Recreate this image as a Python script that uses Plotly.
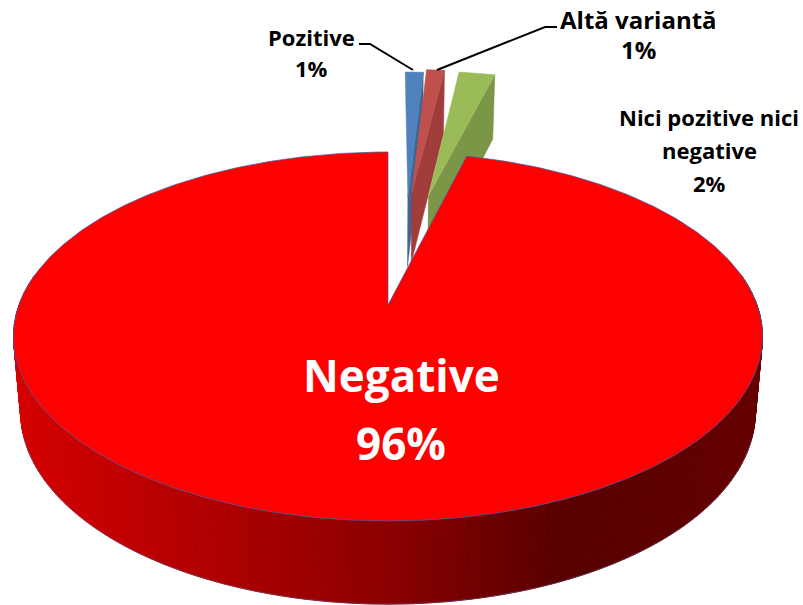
import numpy as np
import plotly.graph_objects as go

# ---- data ----
labels = ["Pozitive", "Altă variantă", "Nici pozitive nici negative", "Negative"]
values = [1, 1, 2, 96]

# ---- styles ----
top_colors = ["#4F81BD", "#C0504D", "#9BBB59", "#FF0000"]
wall_colors = ["#3E6797", "#A03D3B", "#7C9647", None]
explode_dist = [0.675, 0.70, 0.69, 0.0]
explode_dir = [5.1, 5.9, 10.2, 0.0]

# projection of the tilted disc into the page
CX, CY = 388.0, 305.0
K = 0.1707
A_TOP, B_TOP = 369.0, 179.1
A_BOT, B_BOT, Y_BOT = 362.0, 186.7, 379.0


def top(x, y):
    x, y = np.asarray(x, float), np.asarray(y, float)
    d = 1 + K * y
    return CX + A_TOP * x / d, CY - B_TOP * y / d


def bot(x, y):
    x, y = np.asarray(x, float), np.asarray(y, float)
    d = 1 + K * y
    return CX + A_BOT * x / d, Y_BOT - B_BOT * y / d


fig = go.Figure()


def poly(px, py, fill, line=None, width=1):
    fig.add_trace(go.Scatter(
        x=list(px), y=list(py), mode="lines", fill="toself", fillcolor=fill,
        line=dict(color=line or fill, width=width), hoverinfo="skip", showlegend=False))


grad_x = [13, 200, 388, 560, 600, 762]
grad_r = [214, 178, 140, 88, 90, 102]

total = sum(values)
spans = np.array(values) / total * 360.0
starts = np.concatenate([[0], np.cumsum(spans)[:-1]])

# main slice wall (front strips), drawn first
main_a = np.radians(starts[3])
main_b = np.radians(starts[3] + spans[3])
ang = np.radians(np.arange(80, 281, 1.0))
for a0, a1 in zip(ang[:-1], ang[1:]):
    xs = np.sin([a0, a1]); ys = np.cos([a0, a1])
    tx, ty = top(xs, ys)
    bx, by = bot(xs, ys)
    r = int(np.interp((tx.mean() + bx.mean()) / 2, grad_x, grad_r))
    c = f"rgb({r},0,0)"
    poly([tx[0], tx[1], bx[1], bx[0], tx[0]], [ty[0], ty[1], by[1], by[0], ty[0]], c, c, 1)

# thin edge under the wall
fa = np.radians(np.linspace(108, 252, 200))
bx, by = bot(np.sin(fa), np.cos(fa))
fig.add_trace(go.Scatter(x=bx, y=by, mode="lines", line=dict(color="rgba(90,90,150,0.5)", width=1),
                         hoverinfo="skip", showlegend=False))

# exploded small slices
for i in range(3):
    a0 = np.radians(starts[i]); a1 = np.radians(starts[i] + spans[i])
    d = np.radians(explode_dir[i])
    ox, oy = explode_dist[i] * np.sin(d), explode_dist[i] * np.cos(d)
    arc = np.linspace(a0, a1, 12)
    sx = ox + np.sin(arc); sy = oy + np.cos(arc)
    # cut face on the right side
    wx, wy = [ox, ox + np.sin(a1)], [oy, oy + np.cos(a1)]
    t_x, t_y = top(wx, wy)
    b_x, b_y = bot(wx, wy)
    poly([t_x[0], t_x[1], b_x[1], b_x[0], t_x[0]], [t_y[0], t_y[1], b_y[1], b_y[0], t_y[0]], wall_colors[i], wall_colors[i], 0.5)
    fx, fy = top(np.r_[ox, sx, ox], np.r_[oy, sy, oy])
    poly(fx, fy, top_colors[i], top_colors[i], 0.5)

# main slice face
arc = np.linspace(main_a, main_b, 500)
fx, fy = top(np.r_[0, np.sin(arc), 0], np.r_[0, np.cos(arc), 0])
poly(fx, fy, top_colors[3], "rgba(70,90,170,0.75)", 1)

# leader lines
fig.add_trace(go.Scatter(x=[359, 370, 413], y=[44, 44, 70], mode="lines",
                         line=dict(color="black", width=2), hoverinfo="skip", showlegend=False))
fig.add_trace(go.Scatter(x=[557, 545, 437], y=[27, 27, 70], mode="lines",
                         line=dict(color="black", width=2), hoverinfo="skip", showlegend=False))

FONT = "Open Sans"
pct = [f"{v}%" for v in values]


def txt(x, y, s, size=20, color="black"):
    fig.add_annotation(x=x, y=y, text=f"<b>{s}</b>", showarrow=False, xanchor="center", yanchor="middle",
                       font=dict(family=FONT, size=size, color=color))


txt(311, 37, labels[0], 22)
txt(311, 68, pct[0], 22)
txt(638, 19, labels[1], 24)
txt(638, 49, pct[1], 24)
txt(709, 117, "Nici pozitive nici", 22)
txt(709, 150, "negative", 22)
txt(709, 183, pct[2], 22)
txt(401, 375, labels[3], 44, "white")
txt(401, 443, pct[3], 44, "white")

fig.update_layout(
    width=803, height=605, margin=dict(l=0, r=0, t=0, b=0),
    paper_bgcolor="white", plot_bgcolor="white", showlegend=False,
    xaxis=dict(range=[0, 803], visible=False, fixedrange=True),
    yaxis=dict(range=[605, 0], visible=False, fixedrange=True),
)
fig.write_html("out.html", config=dict(displayModeBar=False),
               post_script="document.body.style.margin='0';document.body.style.overflow='hidden';")
